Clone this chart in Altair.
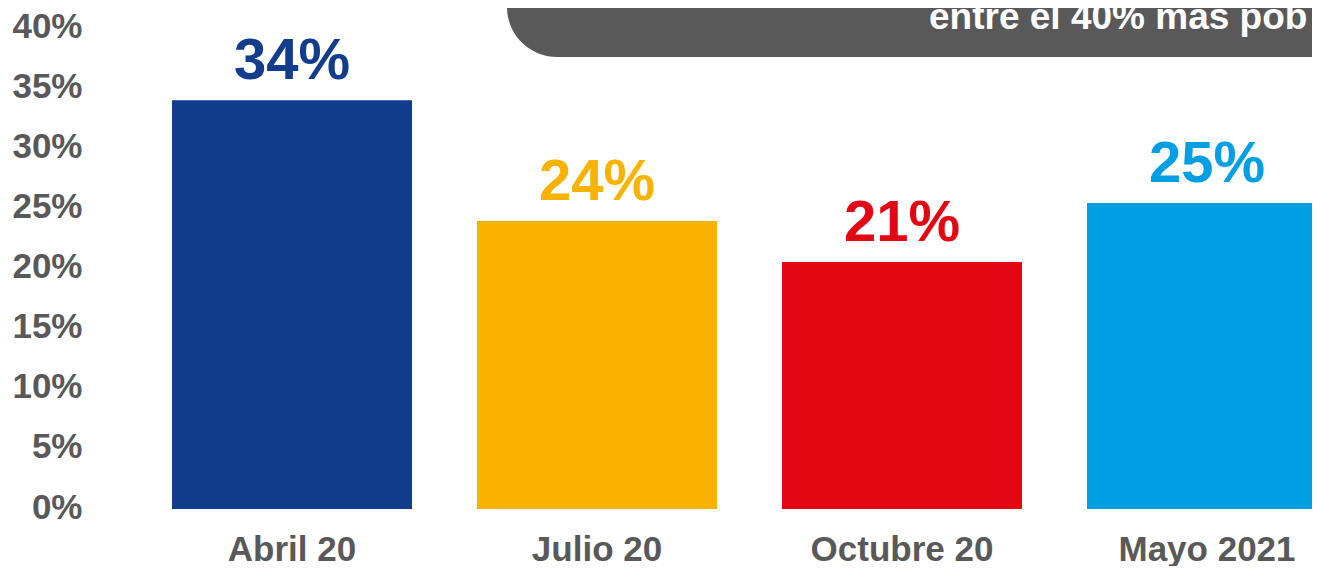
import altair as alt
import pandas as pd

categories = ["Abril 20", "Julio 20", "Octubre 20", "Mayo 2021"]
values = [34.0, 23.95, 20.54, 25.45]
value_labels = ["34%", "24%", "21%", "25%"]
colors = ["#123C8C", "#F7B300", "#E30613", "#009EE2"]
y_ticks = [0, 5, 10, 15, 20, 25, 30, 35, 40]
note_text = ["entre el 40% mas pob"]

FONT = "Liberation Sans"
GRAY = "#595959"

df = pd.DataFrame({"cat": categories, "val": values, "lab": value_labels, "color": colors})

x_enc = alt.X(
    "cat:N",
    sort=categories,
    scale=alt.Scale(range=[0, 1299], paddingInner=0.213, paddingOuter=0.236),
    axis=alt.Axis(
        title=None, labelAngle=0, labelFont=FONT, labelFontWeight="bold",
        labelFontSize=35, labelColor=GRAY, ticks=False, tickSize=0,
        domain=False, labelPadding=23, labelOverlap=False, grid=False,
        labelLimit=0,
    ),
)
y_enc = alt.Y(
    "val:Q",
    scale=alt.Scale(domain=[0, 40], nice=False),
    axis=alt.Axis(
        title=None, values=y_ticks, labelExpr="datum.value + '%'", grid=False,
        domain=False, ticks=False, tickSize=0, labelPadding=18,
        labelFont=FONT, labelFontWeight="bold", labelFontSize=35,
        labelColor=GRAY, labelOffset=-2,
    ),
)

base = alt.Chart(df)
bars = base.mark_bar().encode(
    x=x_enc, y=y_enc, color=alt.Color("color:N", scale=None, legend=None)
)
labels = base.mark_text(
    baseline="alphabetic", dy=-21, fontSize=58, font=FONT, fontWeight="bold"
).encode(x=x_enc, y=y_enc, text="lab:N", color=alt.Color("color:N", scale=None, legend=None))

note_df = pd.DataFrame({"t": note_text})
box = alt.Chart(note_df).mark_rect(color=GRAY, cornerRadiusBottomLeft=50).encode(
    x=alt.value(407), x2=alt.value(1400), y=alt.value(-130), y2=alt.value(29)
)
note = alt.Chart(note_df).mark_text(
    align="left", baseline="alphabetic", fontSize=37, font=FONT,
    fontWeight="bold", color="white"
).encode(x=alt.value(829), y=alt.value(1), text="t:N")

chart = alt.layer(bars, labels, box, note).properties(
    width=1212, height=481,
    autosize=alt.AutoSizeParams(type="none"),
    padding={"left": 92, "top": 20, "right": 0, "bottom": 57},
).configure_view(strokeWidth=0)

chart.save("out.html", embed_options={"renderer": "svg", "actions": False})
